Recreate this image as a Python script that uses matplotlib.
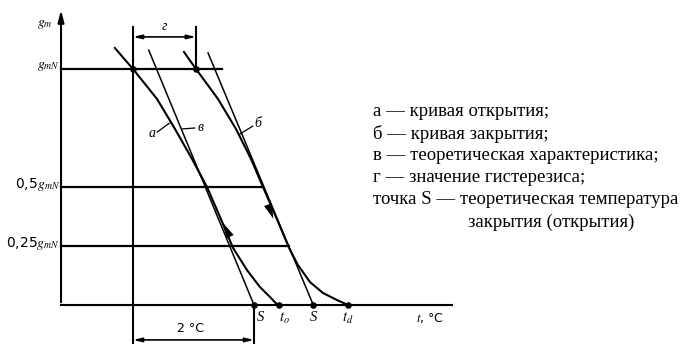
import matplotlib.pyplot as plt

plt.rcParams['mathtext.fontset'] = 'stix'

# curve "а" (opening) and curve "б" (closing): t in degC from the reference line, g in units of g_mN
open_t = [-0.30, 0.0, 0.397, 0.694, 0.975, 1.223, 1.438, 1.653, 1.884, 2.099, 2.264, 2.36, 2.41]
open_g = [1.089, 1.0, 0.873, 0.746, 0.619, 0.50, 0.373, 0.242, 0.148, 0.076, 0.034, 0.008, 0.0]
close_t = [0.843, 1.041, 1.405, 1.702, 1.950, 2.149, 2.364, 2.579, 2.727, 2.926, 3.140, 3.372, 3.554]
close_g = [1.072, 1.0, 0.873, 0.746, 0.619, 0.50, 0.373, 0.242, 0.169, 0.097, 0.051, 0.021, 0.0]

# theoretical straight characteristics
theory_open_t = [0.26, 2.0]
theory_open_g = [1.08, 0.0]
theory_close_t = [1.24, 2.98]
theory_close_g = [1.068, 0.0]

levels = [1.0, 0.5, 0.25]
level_ends = [1.47, 2.13, 2.58]
level_labels = [r'$g_{mN}$', r'0,5$g_{mN}$', r'0,25$g_{mN}$']

marked_t = [0.0, 1.04, 2.0, 2.41, 2.98, 3.554]
marked_g = [1.0, 1.0, 0.0, 0.0, 0.0, 0.0]
bottom_labels = ['S', r'$t_{o}$', 'S', r'$t_{d}$']
bottom_t = [2.1, 2.5, 2.98, 3.55]

axis_t = -1.19
hyst = 1.04       # hysteresis value
span = 2.0        # 2 degC

legend_lines = [
    'а — кривая открытия;',
    'б — кривая закрытия;',
    'в — теоретическая характеристика;',
    'г — значение гистерезиса;',
    'точка S — теоретическая температура',
]
legend_tail = 'закрытия (открытия)'

fig = plt.figure(figsize=(6.84, 3.44), dpi=100)
ax = fig.add_axes([0, 0, 1, 1])
ax.set_xlim(-133 / 60.5, (684 - 133) / 60.5)
ax.set_ylim(-39 / 236, 305 / 236)
ax.axis('off')

k = 'black'
# axes
ax.plot([axis_t, 5.27], [0, 0], color=k, lw=1.5)
ax.annotate('', xy=(axis_t, 1.262), xytext=(axis_t, 0),
            arrowprops=dict(arrowstyle='-|>,head_length=0.7,head_width=0.18', color=k, lw=1.5))

# horizontal levels
for g, end, lab in zip(levels, level_ends, level_labels):
    ax.plot([axis_t, end], [g, g], color=k, lw=1.6)
    ax.text(axis_t - 0.02, g + 0.012, lab, ha='right', va='center', fontsize=10, color=k)

ax.text(axis_t - 0.27, 1.19, r'$g_m$', ha='center', va='center', fontsize=10)

# verticals
ax.plot([0, 0], [1.178, -0.17], color=k, lw=1.5)
ax.plot([hyst, hyst], [1.178, 1.0], color=k, lw=1.5)
ax.plot([span, span], [0, -0.17], color=k, lw=1.5)

# dimension arrows
dim = dict(arrowstyle='<|-|>,head_length=0.5,head_width=0.12', color=k, lw=1.2, shrinkA=0, shrinkB=0)
ax.annotate('', xy=(0, 1.136), xytext=(hyst, 1.136), arrowprops=dim)
ax.text(hyst / 2, 1.18, 'г', ha='center', va='center', fontsize=10, style='italic',
        family='Liberation Serif')
ax.annotate('', xy=(0, -0.148), xytext=(span, -0.148), arrowprops=dim)
ax.text(span / 2 - 0.05, -0.098, '2 °C', ha='center', va='center', fontsize=9)

# curves
ax.plot(open_t, open_g, color=k, lw=1.5)
ax.plot(close_t, close_g, color=k, lw=1.5)
ax.plot(theory_open_t, theory_open_g, color=k, lw=1.1)
ax.plot(theory_close_t, theory_close_g, color=k, lw=1.1)
ax.scatter(marked_t, marked_g, s=14, color=k, zorder=5)

# direction arrows on the curves
head = dict(arrowstyle='-|>,head_length=1.1,head_width=0.3', color=k, lw=0, shrinkA=0, shrinkB=0)
ax.annotate('', xy=(1.49, 0.347), xytext=(1.59, 0.295), arrowprops=head)
ax.annotate('', xy=(2.32, 0.365), xytext=(2.21, 0.44), arrowprops=head)

# curve labels with leaders
lab_kw = dict(fontsize=10, style='italic', family='Liberation Serif', ha='center', va='center')
ax.plot([0.40, 0.60], [0.733, 0.77], color=k, lw=0.9)
ax.text(0.31, 0.725, 'а', **lab_kw)
ax.plot([0.81, 1.02], [0.746, 0.75], color=k, lw=0.9)
ax.text(1.11, 0.752, 'в', **lab_kw)
ax.plot([1.77, 1.98], [0.725, 0.758], color=k, lw=0.9)
ax.text(2.07, 0.768, 'б', **lab_kw)

for lab, t in zip(bottom_labels, bottom_t):
    ax.text(t, -0.055, lab, ha='center', va='center', fontsize=10.5, style='italic',
            family='Liberation Serif')
ax.text(4.9, -0.055, r'$t$, °C', ha='center', va='center', fontsize=9)

# explanation block
for i, line in enumerate(legend_lines):
    fig.text(373 / 684, 1 - (112 + 22 * i) / 344, line, fontsize=13.5,
             family='Liberation Serif', va='center', ha='left')
fig.text(468 / 684, 1 - 222 / 344, legend_tail, fontsize=13.5,
         family='Liberation Serif', va='center', ha='left')

fig.savefig('out.png', dpi=100)
